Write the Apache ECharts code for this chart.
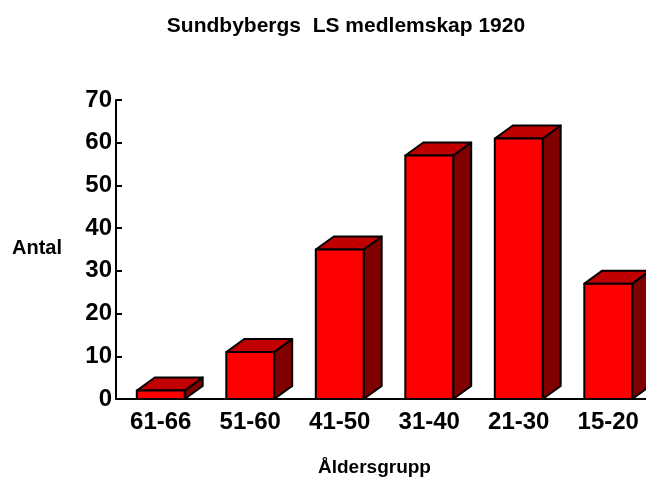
<!DOCTYPE html>
<html>
<head>
<meta charset="utf-8">
<script src="https://cdn.jsdelivr.net/npm/echarts@6/dist/echarts.min.js"></script>
<style>
  html, body { margin: 0; padding: 0; background: #fff; overflow: hidden; }
  /* the last bar runs past the right edge, so the chart is a bit wider than the window */
  #chart { width: 660px; height: 482px; }
</style>
</head>
<body>
<div id="chart"></div>
<script>
  // åldersgrupper och antal medlemmar
  var categories = ['61-66', '51-60', '41-50', '31-40', '21-30', '15-20'];
  var members = [2, 11, 35, 57, 61, 27];
  var yTicks = [0, 10, 20, 30, 40, 50, 60, 70];

  var font = '"Liberation Sans", Arial, sans-serif';
  var myChart = echarts.init(document.getElementById('chart'));

  function renderBox(params, api) {
    var idx = api.value(0);
    var top = api.coord([idx, api.value(1)]);
    var base = api.coord([idx, 0]);
    var w = api.size([1, 0])[0] * 0.535;
    var dx = 18, dy = 13;
    var x0 = top[0] - w / 2, x1 = top[0] + w / 2;
    var yt = top[1], yb = base[1];
    var line = { stroke: '#000', lineWidth: 2, lineJoin: 'round' };
    return {
      type: 'group',
      children: [
        {
          type: 'polygon',
          shape: { points: [[x1, yb], [x1 + dx, yb - dy], [x1 + dx, yt - dy], [x1, yt]] },
          style: Object.assign({ fill: '#800000' }, line)
        },
        {
          type: 'polygon',
          shape: { points: [[x0, yt], [x0 + dx, yt - dy], [x1 + dx, yt - dy], [x1, yt]] },
          style: Object.assign({ fill: '#C00000' }, line)
        },
        {
          type: 'rect',
          shape: { x: x0, y: yt, width: w, height: yb - yt },
          style: Object.assign({ fill: '#FF0000' }, line)
        }
      ]
    };
  }

  var option = {
    animation: false,
    title: {
      text: 'Sundbybergs  LS medlemskap 1920',
      left: 341,
      top: 11,
      textAlign: 'center',
      textStyle: { fontFamily: font, fontSize: 21, fontWeight: 'bold', color: '#000' }
    },
    graphic: [
      {
        type: 'text', left: 12, top: 238,
        style: { text: 'Antal', font: 'bold 20px ' + font, fill: '#000' }
      },
      {
        type: 'text', left: 318, top: 458,
        style: { text: 'Åldersgrupp', font: 'bold 19px ' + font, fill: '#000' }
      }
    ],
    grid: { left: 116, top: 100, bottom: 83, right: 7 },
    xAxis: {
      type: 'category',
      data: categories,
      axisLine: { lineStyle: { color: '#000', width: 2 } },
      axisTick: { inside: true, length: 6, lineStyle: { color: '#000', width: 2 } },
      axisLabel: { margin: 11, fontFamily: font, fontSize: 24, fontWeight: 'bold', color: '#000' }
    },
    yAxis: {
      type: 'value',
      min: yTicks[0],
      max: yTicks[yTicks.length - 1],
      interval: 10,
      splitLine: { show: false },
      axisLine: { show: true, lineStyle: { color: '#000', width: 2 } },
      axisTick: { show: true, inside: true, length: 6, lineStyle: { color: '#000', width: 2 } },
      axisLabel: { margin: 4, fontFamily: font, fontSize: 24, fontWeight: 'bold', color: '#000' }
    },
    series: [
      {
        type: 'custom',
        clip: false,
        renderItem: renderBox,
        data: members.map(function (v, i) { return [i, v]; })
      }
    ]
  };

  myChart.setOption(option);
</script>
</body>
</html>
